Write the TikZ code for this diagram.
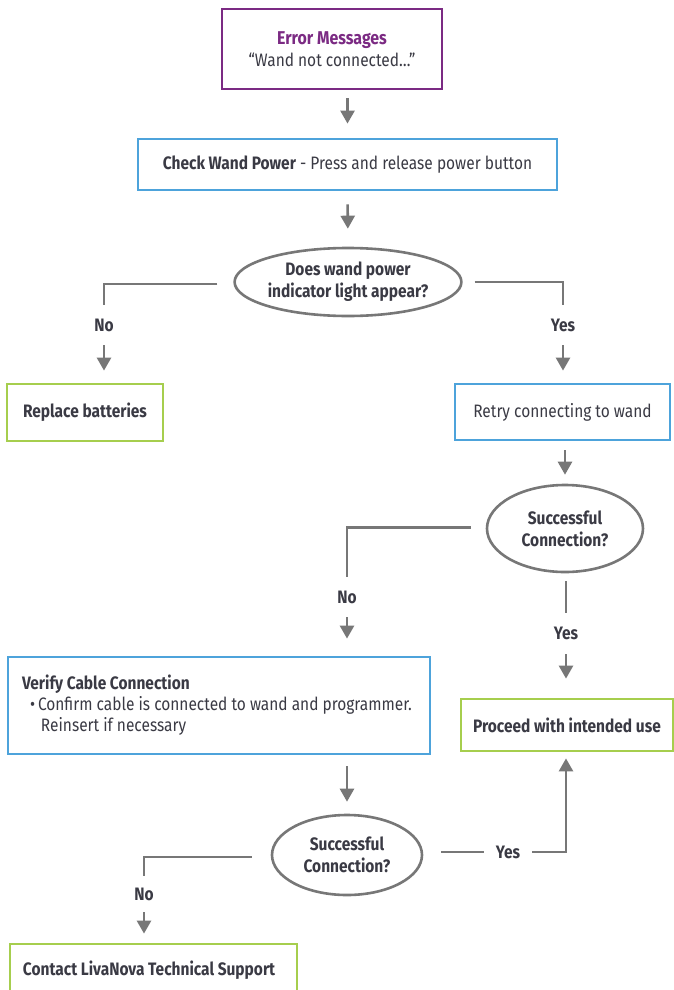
\documentclass[tikz,border=0pt]{standalone}
\usepackage{fontspec}
\setmainfont[FakeStretch=0.86]{Fira Sans}
\usetikzlibrary{shapes.geometric,arrows.meta}
\definecolor{purp}{HTML}{7B2A83}
\definecolor{bluec}{HTML}{4DA3DB}
\definecolor{greenc}{HTML}{A6CE4E}
\definecolor{grayc}{HTML}{777777}
\definecolor{txt}{HTML}{3A3A44}
\begin{document}
\begin{tikzpicture}[x=1pt,y=-1pt,
  box/.style={draw,line width=2.8pt,inner sep=0pt,text=txt,font=\fontsize{18}{22}\selectfont,align=center},
  bbox/.style={box,draw=bluec},
  gbox/.style={box,draw=greenc},
  dec/.style={ellipse,draw=grayc,line width=2.6pt,fill=white,inner sep=0pt,text=txt,align=center,font=\bfseries\fontsize{18}{22}\selectfont},
  ln/.style={draw=grayc,line width=2.6pt},
  arr/.style={draw=grayc,line width=2.6pt,-{Triangle[width=14pt,length=13pt]}},
  lab/.style={inner sep=0pt,text=txt,font=\bfseries\fontsize{18}{20}\selectfont,minimum width=30pt,minimum height=40pt}]
\useasboundingbox (0,0) rectangle (674,990);
\fill[white] (0,0) rectangle (674,990);

\node[box,draw=purp,minimum width=220pt,minimum height=80pt] (err) at (332,49)
  {{\bfseries\color{purp}\fontsize{18.5}{22}\selectfont Error Messages}\\“Wand not connected…”};
\node[bbox,minimum width=419pt,minimum height=51pt] (chk) at (347.5,164.5)
  {\bfseries Check Wand Power\mdseries{} - Press and release power button};
\node[dec,minimum width=225pt,minimum height=68pt] (e1) at (348,282)
  {Does wand power\\indicator light appear?};
\node[lab] (no1) at (104,325) {No};
\node[lab] (yes1) at (563,325) {Yes};
\node[gbox,minimum width=156pt,minimum height=57pt,font=\bfseries\fontsize{18}{22}\selectfont] (rb) at (85,412.5) {Replace batteries};
\node[bbox,minimum width=215pt,minimum height=56pt] (retry) at (562.5,412) {Retry connecting to wand};
\node[dec,minimum width=156pt,minimum height=87pt] (e2) at (565,528.5) {Successful\\Connection?};
\node[lab] (no2) at (347,597) {No};
\node[lab,minimum height=41pt] (yes2) at (566,633.5) {Yes};
\node[bbox,minimum width=422pt,minimum height=97pt,align=flush left,text width=394pt] (ver) at (219,705.5)
  {{\bfseries Verify Cable Connection}\\[-1pt]
   \mbox{}\hspace*{8pt}•\hspace{3pt}Confirm cable is connected to wand and programmer.\\[-1pt]
   \mbox{}\hspace*{19pt}Reinsert if necessary};
\node[gbox,minimum width=212pt,minimum height=52pt,font=\bfseries\fontsize{18}{22}\selectfont] (proc) at (567,725) {Proceed with intended use};
\node[dec,minimum width=150pt,minimum height=80pt] (e3) at (347,855) {Successful\\Connection?};
\node[lab,minimum height=36pt] (no3) at (144,894) {No};
\node[lab,minimum width=48pt,minimum height=20pt] (yes3) at (508,852) {Yes};
\node[gbox,minimum width=287pt,minimum height=52pt,align=flush left,text width=261pt,font=\bfseries\fontsize{18}{22}\selectfont] (cont) at (153.5,970) {Contact LivaNova Technical Support};

\draw[arr,shorten <=8pt,shorten >=14pt] (err.south -| chk.north) -- (chk.north);
\draw[arr,shorten <=13pt,shorten >=18pt] (chk.south) -- (e1.north);
\draw[ln] ([xshift=-16pt,yshift=-2pt]e1.west) -| (no1.north);
\draw[ln] ([xshift=12pt]e1.east) -| (yes1.north);
\draw[arr,shorten >=12pt] (no1.south) -- (no1.south |- rb.north);
\draw[arr,shorten >=12pt] (yes1.south) -- (yes1.south |- retry.north);
\draw[arr,shorten <=9pt,shorten >=9pt] (retry.south -| e2.north) -- (e2.north);
\draw[ln] ([xshift=-15pt,yshift=1pt]e2.west) -| (no2.north);
\draw[arr,shorten >=17pt] (no2.south) -- (no2.south |- ver.north);
\draw[ln,shorten <=8pt] (e2.south -| yes2.north) -- (yes2.north);
\draw[arr,shorten >=19pt] (yes2.south) -- (yes2.south |- proc.north);
\draw[arr,shorten <=11pt,shorten >=12pt] (ver.south -| e3.north) -- (e3.north);
\draw[ln] ([xshift=-19pt,yshift=-2pt]e3.west) -| (no3.north);
\draw[arr,shorten >=9pt] (no3.south) -- (no3.south |- cont.north);
\draw[ln,shorten <=18pt] (yes3.west -| e3.east) -- (yes3.west);
\draw[arr,shorten >=6pt] (yes3.east) -| (proc.south -| yes2.south);
\end{tikzpicture}
\end{document}
